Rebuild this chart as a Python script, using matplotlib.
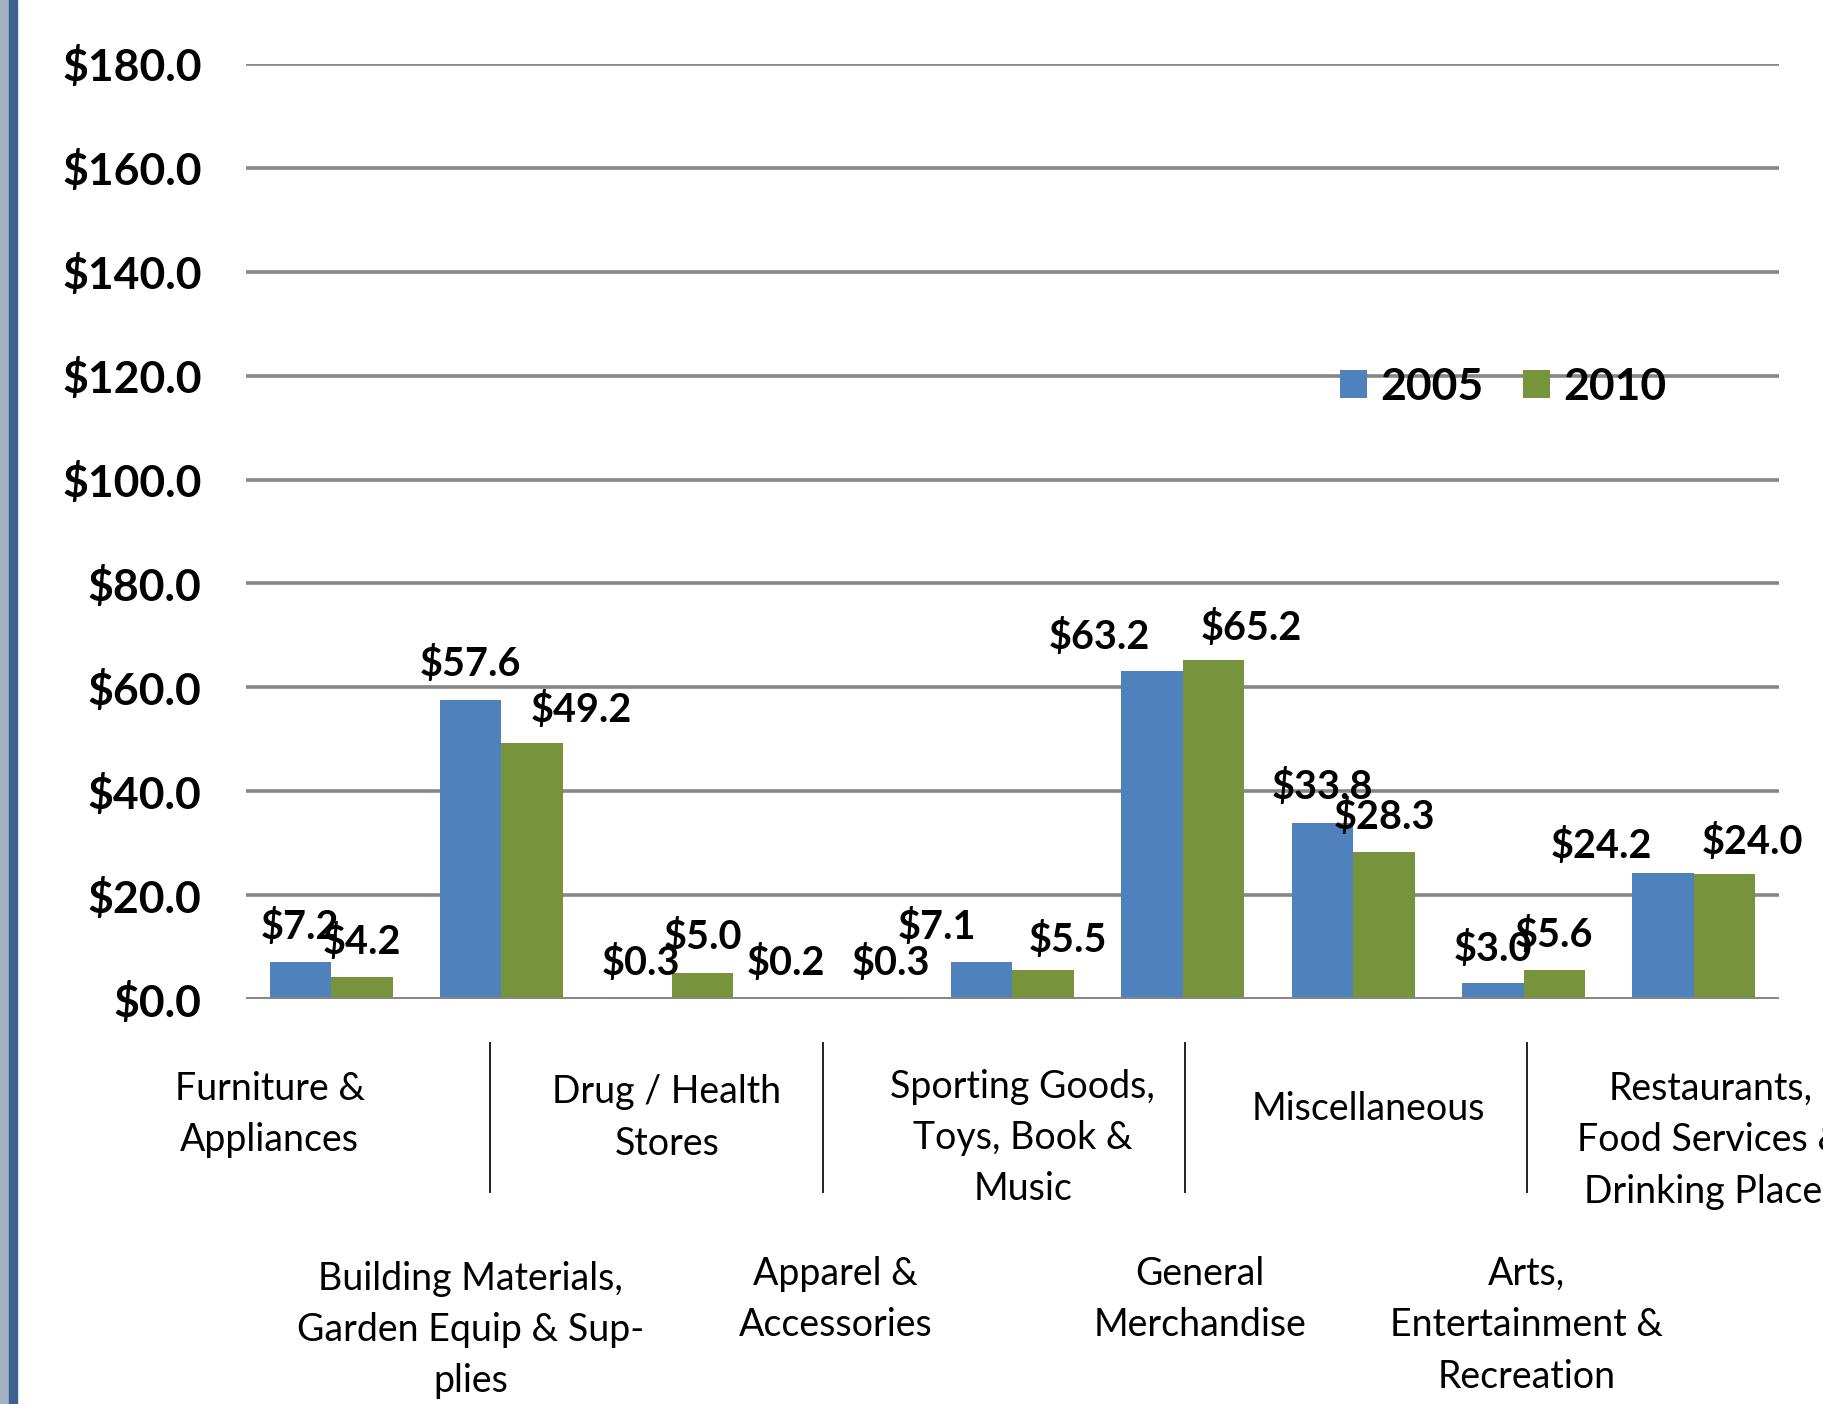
import matplotlib
matplotlib.use("Agg")
import matplotlib.pyplot as plt
import matplotlib.transforms as mtransforms
from matplotlib.patches import Rectangle
import numpy as np

categories = [
    "Furniture &\nAppliances",
    "Building Materials,\nGarden Equip & Sup-\nplies",
    "Drug / Health\nStores",
    "Apparel &\nAccessories",
    "Sporting Goods,\nToys, Book &\nMusic",
    "General\nMerchandise",
    "Miscellaneous",
    "Arts,\nEntertainment &\nRecreation",
    "Restaurants,\nFood Services &\nDrinking Places",
]
series_names = ["2005", "2010"]
values_2005 = [7.2, 57.6, 0.3, 0.2, 7.1, 63.2, 33.8, 3.0, 24.2]
values_2010 = [4.2, 49.2, 5.0, 0.3, 5.5, 65.2, 28.3, 5.6, 24.0]
yticks = [0, 20, 40, 60, 80, 100, 120, 140, 160, 180]

# data-label nudges (points), as placed in the original
dx_2005 = [0, 0, 0, -18, -32, -38, 0, 0, -44]
dx_2010 = [0, 35, 0, 13, 18, 27, 0, 0, 20]
dy_2005 = [25, 26, 25, 25, 25, 24, 26, 25, 20]
dy_2010 = [25, 24, 26, 25, 22, 23, 25, 25, 23]

label_offsets = [-0.36, -0.18, -0.03, -0.04, 0.06, 0.10, 0.09, 0.02, 0.10]
label_dy = [0, 4, 3, 0, -2, 0, 17, 0, 0]
separator_x = [0.93, 2.89, 5.01, 7.02]

plt.rcParams['font.family'] = ['Lato', 'DejaVu Sans']

W, H = 1823, 1404
fig = plt.figure(figsize=(W / 100, H / 100), dpi=100)
ax = fig.add_axes([246 / W, 1 - 999 / H, (1779 - 246) / W, (999 - 64) / H])

c_blue = "#4F81BD"
c_green = "#77933C"

x = np.arange(len(categories))
bw = 0.362
b1 = ax.bar(x - bw / 2, values_2005, bw, color=c_blue, label=series_names[0], zorder=3)
b2 = ax.bar(x + bw / 2, values_2010, bw, color=c_green, label=series_names[1], zorder=3)

for bars, vals, dxs, dys in ((b1, values_2005, dx_2005, dy_2005), (b2, values_2010, dx_2010, dy_2010)):
    for rect, v, ddx, ddy in zip(bars, vals, dxs, dys):
        ax.annotate(f"${v:.1f}", (rect.get_x() + rect.get_width() / 2, rect.get_height()),
                    xytext=(ddx, ddy), textcoords="offset points", ha="center", va="center",
                    fontsize=28.5, fontweight="bold", zorder=5)

ax.set_xlim(-0.5, len(categories) - 0.5)
ax.set_ylim(0, 180)
ax.set_yticks(yticks)
ax.set_yticklabels([f"${v:.1f}" for v in yticks], fontsize=32, fontweight="bold")
ax.tick_params(axis="y", length=0, pad=32)
ax.set_xticks([])
ax.yaxis.grid(True, color="#868686", linewidth=2.6, zorder=0)
for s in ax.spines.values():
    s.set_visible(False)
ax.axhline(0, color="#868686", linewidth=2.6, zorder=4)

trans = mtransforms.blended_transform_factory(ax.transData, fig.transFigure)
for i, (lab, off, ldy) in enumerate(zip(categories, label_offsets, label_dy)):
    if i % 2 == 0:
        ytop = 1 - (1071 + ldy * 1.16) / H
    else:
        ytop = 1 - (1256 + ldy * 1.16) / H
    ax.text(i + off, ytop, lab, transform=trans, ha="center", va="top",
            fontsize=27, linespacing=1.53, clip_on=False)

for sx in separator_x:
    ax.plot([sx, sx], [1 - 1043 / H, 1 - 1192 / H], transform=trans, color="#222222",
            linewidth=1.4, clip_on=False)

leg = ax.legend(loc="center", bbox_to_anchor=(0.82, 0.655), ncol=2, frameon=False,
                prop={"size": 32, "weight": "bold"}, handlelength=0.6, handleheight=0.6,
                handletextpad=0.3, columnspacing=0.9)

fig.patches.append(Rectangle((0, 0), 9 / W, 1, transform=fig.transFigure, color="#A3B1C2", zorder=10))
fig.patches.append(Rectangle((9 / W, 0), 8 / W, 1, transform=fig.transFigure, color="#3E628E", zorder=10))

fig.savefig("out.png", dpi=100)
